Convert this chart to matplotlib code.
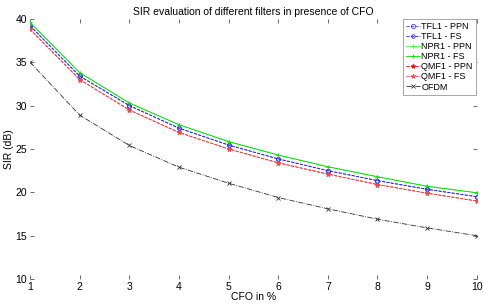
import numpy as np
import matplotlib.pyplot as plt

plt.rcParams['font.family'] = ['Liberation Sans', 'DejaVu Sans']

cfo = [1, 2, 3, 4, 5, 6, 7, 8, 9, 10]
tfl1_ppn = [39.2, 33.4, 30.0, 27.4, 25.45, 23.85, 22.5, 21.35, 20.35, 19.5]
tfl1_fs = [39.2, 33.4, 30.0, 27.4, 25.45, 23.85, 22.5, 21.35, 20.35, 19.5]
npr1_ppn = [39.6, 33.8, 30.3, 27.8, 25.85, 24.3, 22.95, 21.8, 20.7, 19.95]
npr1_fs = [39.6, 33.8, 30.3, 27.8, 25.85, 24.3, 22.95, 21.8, 20.7, 19.95]
qmf1_ppn = [38.8, 33.0, 29.5, 26.9, 25.0, 23.4, 22.1, 20.9, 19.9, 19.0]
qmf1_fs = [38.8, 33.0, 29.5, 26.9, 25.0, 23.4, 22.1, 20.9, 19.9, 19.0]
ofdm = [35.0, 28.9, 25.4, 22.9, 21.05, 19.4, 18.1, 16.9, 15.9, 15.0]

fig = plt.figure(figsize=(4.85, 3.04), dpi=100)
ax = fig.add_axes([0.062, 0.082, 0.921, 0.856])

lw = 0.6
ax.plot(cfo, tfl1_ppn, color='#4040ff', ls='--', marker='o', ms=3, mfc='none', mew=0.6, lw=lw, label='TFL1 - PPN')
ax.plot(cfo, tfl1_fs, color='#2020ff', ls='--', marker='o', ms=2.5, mfc='none', mew=0.6, lw=lw, label='TFL1 - FS')
ax.plot(cfo, npr1_ppn, color='#50ff50', ls='-', marker='+', ms=3.5, mew=0.6, lw=lw, label='NPR1 - PPN')
ax.plot(cfo, npr1_fs, color='#00e000', ls='-', marker='+', ms=3.5, mew=0.6, lw=lw, label='NPR1 - FS')
ax.plot(cfo, qmf1_ppn, color='#ff0000', ls='--', marker='*', ms=3.5, mew=0.5, lw=lw, label='QMF1 - PPN')
ax.plot(cfo, qmf1_fs, color='#ff4848', ls='--', marker='*', ms=3.5, mew=0.5, lw=lw, label='QMF1 - FS')
ax.plot(cfo, ofdm, color='#303030', ls='-.', marker='x', ms=2.5, mew=0.6, lw=lw, label='OFDM')

ax.set_xlim(1, 10)
ax.set_ylim(10, 40)
ax.set_xticks(cfo)
ax.set_yticks([10, 15, 20, 25, 30, 35, 40])
for s in ax.spines.values():
    s.set_visible(False)
ax.tick_params(direction='in', length=3, width=0.6, color='#555555', labelsize=7.5,
               top=True, right=True, pad=2)

ax.set_title('SIR evaluation of different filters in presence of CFO', fontsize=7.5, pad=3)
ax.set_xlabel('CFO in %', fontsize=7.5, labelpad=0)
ax.set_ylabel('SIR (dB)', fontsize=7.5, labelpad=1)

leg = ax.legend(loc='upper right', bbox_to_anchor=(0.998, 1.0), borderaxespad=0, fontsize=6.5,
                frameon=True, fancybox=False, edgecolor='#999999', framealpha=1, handlelength=1.5,
                handletextpad=0.2, labelspacing=0.12, borderpad=0.35)
leg.get_frame().set_linewidth(0.6)

fig.savefig('out.png', dpi=100)
